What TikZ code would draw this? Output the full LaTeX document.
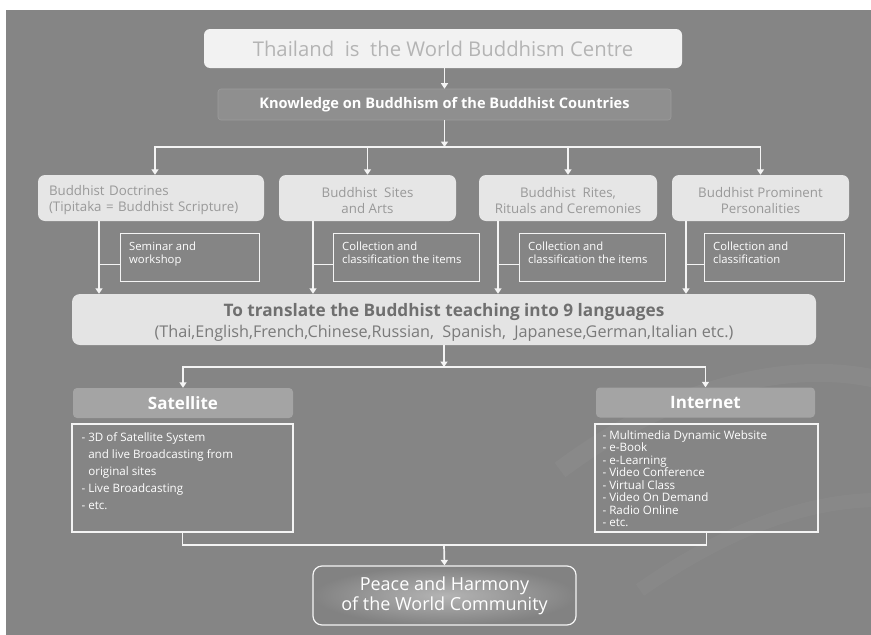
\documentclass[tikz,border=0pt]{standalone}
\usepackage{fontspec}
\setmainfont{Open Sans}
\usetikzlibrary{arrows.meta,calc}
\definecolor{bggray}{HTML}{858585}
\definecolor{titlefill}{HTML}{F2F2F2}
\definecolor{titletext}{HTML}{B4B4B4}
\definecolor{knowfill}{HTML}{8F8F8F}
\definecolor{knowdraw}{HTML}{9C9C9C}
\definecolor{boxfill}{HTML}{E6E6E6}
\definecolor{cattext}{HTML}{999999}
\definecolor{transfill}{HTML}{E4E4E4}
\definecolor{transtext}{HTML}{6F6F6F}
\definecolor{transtextb}{HTML}{7A7A7A}
\definecolor{hdrfill}{HTML}{A4A4A4}
\definecolor{linecol}{HTML}{F4F4F4}
\definecolor{peacein}{HTML}{B4B4B4}
\definecolor{peaceout}{HTML}{828282}
\begin{document}
\begin{tikzpicture}[x=1pt,y=-1pt,
  lightbox/.style={rounded corners=7pt, fill=boxfill, draw=none, inner sep=0pt},
  catbox/.style={lightbox, text=cattext, font=\fontsize{13.3}{16}\selectfont, align=center, minimum height=46pt},
  subbox/.style={draw=linecol, line width=1.2pt, minimum height=48pt, anchor=north west, inner sep=0pt},
  subtxt/.style={text=white, font=\fontsize{11.3}{13}\selectfont, align=left, anchor=north west, inner sep=0pt},
  hdrbox/.style={rounded corners=4pt, fill=hdrfill, text=white, font=\bfseries\fontsize{17}{18}\selectfont, minimum height=30pt, inner sep=0pt},
  listbox/.style={draw=linecol, line width=1.3pt, minimum height=108pt, inner sep=0pt},
  listtxt/.style={text=white, font=\fontsize{11.6}{12.5}\selectfont, align=left, anchor=north west, inner sep=0pt},
  conn/.style={draw=linecol, line width=1.7pt},
  arr/.style={conn, -{Triangle[width=7pt,length=5.5pt]}}
]
\useasboundingbox (0,0) rectangle (871,635);
\fill[white] (0,0) rectangle (871,635);
\fill[bggray] (6,10) rectangle (871,635);
% faint background swirls
\begin{scope}
\clip (6,10) rectangle (871,635);
\draw[white, opacity=0.035, line width=18pt] (560,470) .. controls (680,380) and (800,360) .. (880,380);
\draw[white, opacity=0.03, line width=14pt] (640,590) .. controls (740,520) and (820,500) .. (880,500);
\end{scope}

% nodes
\node[lightbox, fill=titlefill, rounded corners=6pt, minimum width=478pt, minimum height=39pt, text=titletext, font=\fontsize{20.3}{24}\selectfont] (title) at (443,48.5) {Thailand\ \ is\ \ the World Buddhism Centre};
\node[rounded corners=3pt, fill=knowfill, draw=knowdraw, line width=0.6pt, minimum width=453pt, minimum height=31pt, inner sep=0pt, text=white, font=\bfseries\fontsize{14.6}{16}\selectfont] (know) at (444.5,104.5) {Knowledge on Buddhism of the Buddhist Countries};

\node[catbox, align=left, text width=204pt, minimum width=226pt] (b1) at (151,198) {\rule{0pt}{15pt}Buddhist Doctrines\\(Tipitaka = Buddhist Scripture)};
\node[catbox, minimum width=177pt] (b2) at (367.5,198) {\rule{0pt}{15pt}Buddhist\ \ Sites\\and Arts};
\node[catbox, minimum width=178pt] (b3) at (568,198) {\rule{0pt}{15pt}Buddhist\ \ Rites,\\Rituals and Ceremonies};
\node[catbox, minimum width=177pt] (b4) at (760.5,198) {\rule{0pt}{15pt}Buddhist Prominent\\Personalities};

\node[subbox, minimum width=139pt] (s1) at (120,233) {};
\node[subbox, minimum width=146pt] (s2) at (333,233) {};
\node[subbox, minimum width=146pt] (s3) at (519,233) {};
\node[subbox, minimum width=140pt] (s4) at (704,233) {};
\node[subtxt] (s1t) at ([xshift=9pt,yshift=-9pt]s1.north west) {Seminar and\\workshop};
\node[subtxt] (s2t) at ([xshift=9pt,yshift=-9pt]s2.north west) {Collection and\\classification the items};
\node[subtxt] (s3t) at ([xshift=9pt,yshift=-9pt]s3.north west) {Collection and\\classification the items};
\node[subtxt] (s4t) at ([xshift=9pt,yshift=-9pt]s4.north west) {Collection and\\classification};

\node[lightbox, fill=transfill, rounded corners=8pt, minimum width=744pt, minimum height=51pt, align=center, text=transtextb, font=\fontsize{16.2}{21}\selectfont] (trans) at (444,319.5)
  {\rule{0pt}{19pt}{\color{transtext}\bfseries\fontsize{17.2}{21}\selectfont To translate the Buddhist teaching into 9 languages}\\(Thai,English,French,Chinese,Russian,\ \ Spanish,\ \ Japanese,German,Italian etc.)};

\node[hdrbox, minimum width=220pt] (sat) at (183,403) {Satellite};
\node[hdrbox, minimum width=219pt] (net) at (705.5,402.5) {Internet};
\node[listbox, minimum width=221pt] (satc) at (182.5,478) {};
\node[listbox, minimum width=223pt] (netc) at (706.5,478) {};
\node[listtxt, font=\fontsize{11.6}{17}\selectfont] (satt) at ([xshift=10pt,yshift=-9pt]satc.north west)
  {- 3D of Satellite System\\\hphantom{-\ }and live Broadcasting from\\\hphantom{-\ }original sites\\- Live Broadcasting\\- etc.};
\node[listtxt] (nett) at ([xshift=8pt,yshift=-7pt]netc.north west)
  {- Multimedia Dynamic Website\\- e-Book\\- e-Learning\\- Video Conference\\- Virtual Class\\- Video On Demand\\- Radio Online\\- etc.};

\node[rounded corners=9pt, draw=linecol, line width=1.2pt, inner color=peacein, outer color=peaceout, minimum width=263pt, minimum height=59pt, inner sep=0pt, text=white, align=center, font=\fontsize{18}{20}\selectfont] (peace) at (444.5,595.5) {Peace and Harmony\\of the World Community};

% connectors
\coordinate (bus1) at (444.5,147);
\coordinate (bus2) at (444,367);
\coordinate (bus3) at (444,545);
\draw[arr] (title.south -| know.north) -- (know.north);
\draw[arr] (know.south) -- (bus1);
\draw[arr] (bus1) -| ([xshift=4pt]b1.north);
\draw[arr] (bus1) -| (b2.north);
\draw[arr] (bus1) -| (b3.north);
\draw[arr] (bus1) -| (b4.north);

\coordinate (v1) at ([xshift=-52pt]b1.south);
\coordinate (v2) at ([xshift=-54.5pt]b2.south);
\coordinate (v3) at ([xshift=-70pt]b3.south);
\coordinate (v4) at ([xshift=-74.5pt]b4.south);
\coordinate (t1) at ([yshift=-7pt]s1.west);
\coordinate (t2) at ([yshift=-7pt]s2.west);
\coordinate (t3) at ([yshift=-7pt]s3.west);
\coordinate (t4) at ([yshift=-7pt]s4.west);
\draw[arr] (v1) -- (v1 |- trans.north);
\draw[arr] (v2) -- (v2 |- trans.north);
\draw[arr] (v3) -- (v3 |- trans.north);
\draw[arr] (v4) -- (v4 |- trans.north);
\draw[conn] (t1) -- (t1 -| v1);
\draw[conn] (t2) -- (t2 -| v2);
\draw[conn] (t3) -- (t3 -| v3);
\draw[conn] (t4) -- (t4 -| v4);

\draw[arr] (trans.south) -- (bus2);
\draw[arr] (bus2) -| (sat.north);
\draw[arr] (bus2) -| (net.north);

\draw[conn] (satc.south) |- (netc.south |- bus3) -- (netc.south);
\draw[arr] (bus3) -- (peace.north);
\end{tikzpicture}
\end{document}
